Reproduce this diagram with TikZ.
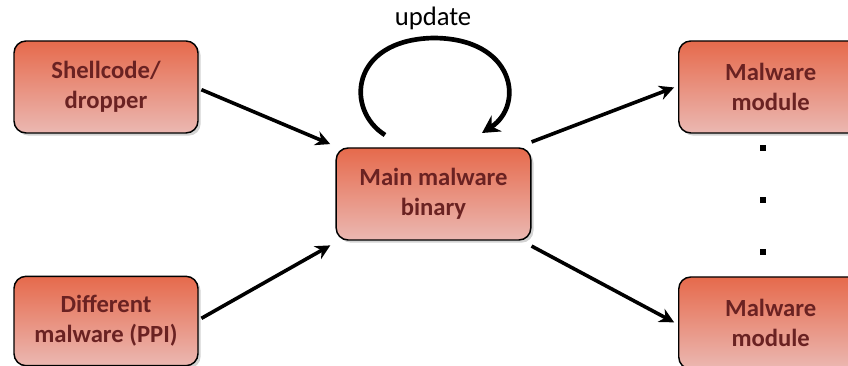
\documentclass[tikz,border=0pt]{standalone}
\usepackage{fontspec}
\setmainfont{Carlito}
\usetikzlibrary{arrows.meta,shadows}
\definecolor{boxtop}{HTML}{E66A4C}
\definecolor{boxbot}{HTML}{EBB8B2}
\definecolor{boxtext}{HTML}{6A2222}
\tikzset{
  box/.style={draw=black, line width=1.1pt, rounded corners=9pt,
    top color=boxtop, bottom color=boxbot,
    drop shadow={shadow xshift=2pt, shadow yshift=-2pt, opacity=0.35, fill=gray},
    text=boxtext, font=\bfseries\fontsize{18.5}{22.5}\selectfont, align=center, inner sep=0pt},
  conn/.style={line width=2.7pt, -{Stealth[length=11pt,width=11pt]}, shorten >=1pt},
  dotmark/.style={fill=black, minimum size=4.5pt, inner sep=0pt}
}
\begin{document}
\begin{tikzpicture}[x=0.75pt,y=-0.75pt]
\useasboundingbox (0,0) rectangle (848,366);
\node[box, minimum width=138pt, minimum height=69pt] (shell) at (106,87) {Shellcode/\\dropper};
\node[box, minimum width=138pt, minimum height=67pt] (diff) at (106,321) {Different\\malware (PPI)};
\node[box, minimum width=146pt, minimum height=69pt] (main) at (433.5,194) {Main malware\\binary};
\node[box, minimum width=138pt, minimum height=69pt, anchor=west] (mod1) at (678,87) {Malware\\module};
\node[box, minimum width=138pt, minimum height=69pt, anchor=west] (mod2) at (678,323) {Malware\\module};
\node[dotmark] (d1) at (763,148) {};
\node[dotmark] (d2) at (763,200) {};
\node[dotmark] (d3) at (763,252) {};
\node[font=\fontsize{20}{24}\selectfont] (upd) at (433,18) {update};
\coordinate (ls) at (385,135);
\coordinate (le) at (482,133);
\draw[line width=3.5pt, -{Stealth[length=13pt,width=14pt]}] (ls) .. controls (345,110) and (350,40) .. (433,38) .. controls (515,38) and (525,105) .. (le);
\draw[conn] ([xshift=2pt,yshift=-2pt]shell.east) -- ([xshift=-3pt,yshift=2pt]main.north west);
\draw[conn] ([xshift=2pt,yshift=2pt]diff.east) -- ([xshift=-3pt,yshift=-3pt]main.south west);
\draw[conn] ([yshift=4pt]main.north east) -- ([xshift=-2pt]mod1.west);
\draw[conn] ([yshift=-4pt]main.south east) -- ([xshift=-2pt]mod2.west);
\end{tikzpicture}
\end{document}
